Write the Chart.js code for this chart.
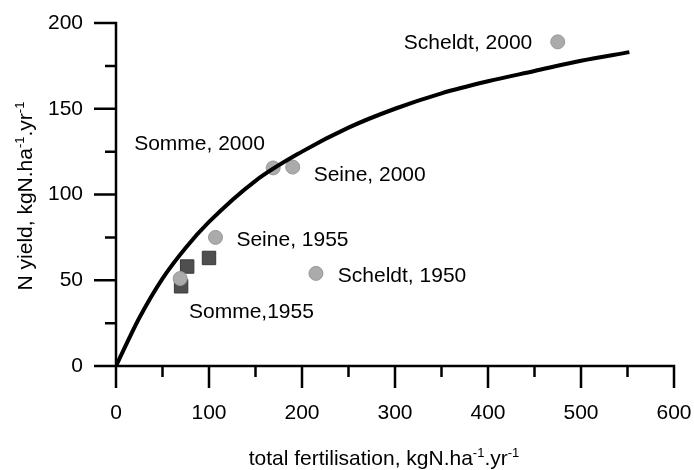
<!DOCTYPE html>
<html>
<head>
<meta charset="utf-8">
<script src="https://cdn.jsdelivr.net/npm/chart.js@4.4.1/dist/chart.umd.min.js"></script>
<style>
  html, body { margin: 0; padding: 0; background: #ffffff; }
  #wrap { width: 694px; height: 470px; }
</style>
</head>
<body>
<div id="wrap"><canvas id="c" width="694" height="470"></canvas></div>
<script>
// ---- data ----
const curveX = [0, 25, 50, 75, 100, 150, 200, 250, 300, 350, 400, 450, 500, 552];
const curveY = [0, 28, 51, 69, 84, 108, 125, 139, 150, 159, 166, 172, 178, 183];

const circleNames = ['Scheldt, 2000', 'Somme, 2000', 'Seine, 2000', 'Seine, 1955', 'Scheldt, 1950', 'Somme,1955'];
const circleX = [475, 169, 190, 107, 215, 69];
const circleY = [189, 115.5, 116, 75, 54, 51];

const squareX = [70, 76.5, 100];
const squareY = [46.5, 58, 63];

const xTicks = [0, 100, 200, 300, 400, 500, 600];
const yTicks = [0, 50, 100, 150, 200];

// label anchors in data coordinates (left edge, vertical centre of text)
const labelText = ['Scheldt, 2000', 'Somme, 2000', 'Seine, 2000', 'Seine, 1955', 'Scheldt, 1950', 'Somme,1955'];
const labelX = [309.5, 19.5, 212.5, 129.5, 238.5, 78.5];
const labelY = [188, 129.5, 111.5, 73.5, 52.5, 31.5];

const FONT = '"Liberation Sans", Arial, sans-serif';
const FS = 21;
const TXT = '#000';

const axesPlugin = {
  id: 'axesPlugin',
  afterDatasetsDraw(chart) {
    const ctx = chart.ctx;
    const xs = chart.scales.x, ys = chart.scales.y;
    const x0 = xs.getPixelForValue(0), y0 = ys.getPixelForValue(0);
    const MAJ = 22, MIN = 11;
    ctx.save();
    ctx.strokeStyle = '#000';
    ctx.lineWidth = 2.5;
    ctx.lineCap = 'butt';
    ctx.beginPath();
    // x axis
    ctx.moveTo(x0 - MAJ, y0); ctx.lineTo(xs.getPixelForValue(600) + 1.25, y0);
    // y axis
    ctx.moveTo(x0, ys.getPixelForValue(200) - 1.25); ctx.lineTo(x0, y0 + MAJ);
    for (let v = 50; v <= 600; v += 50) {
      const px = xs.getPixelForValue(v);
      const len = (v % 100 === 0) ? MAJ : MIN;
      ctx.moveTo(px, y0); ctx.lineTo(px, y0 + len);
    }
    for (let v = 25; v <= 200; v += 25) {
      const py = ys.getPixelForValue(v);
      const len = (v % 50 === 0) ? MAJ : MIN;
      ctx.moveTo(x0, py); ctx.lineTo(x0 - len, py);
    }
    ctx.stroke();

    // point labels
    ctx.fillStyle = TXT;
    ctx.font = FS + 'px ' + FONT;
    ctx.textAlign = 'left';
    ctx.textBaseline = 'middle';
    labelText.forEach((t, i) => {
      ctx.fillText(t, xs.getPixelForValue(labelX[i]), ys.getPixelForValue(labelY[i]));
    });

    // axis titles with superscripts
    function drawRich(parts, cx, cy) {
      let total = 0;
      parts.forEach(p => {
        ctx.font = (p.sup ? '13px ' : FS + 'px ') + FONT;
        total += ctx.measureText(p.t).width;
      });
      let x = cx - total / 2;
      ctx.textAlign = 'left';
      ctx.textBaseline = 'alphabetic';
      parts.forEach(p => {
        ctx.font = (p.sup ? '13px ' : FS + 'px ') + FONT;
        ctx.fillText(p.t, x, cy + (p.sup ? -8 : 0));
        x += ctx.measureText(p.t).width;
      });
    }
    const titleParts = [
      {t: 'total fertilisation, kgN.ha'}, {t: '-1', sup: true},
      {t: '.yr'}, {t: '-1', sup: true}
    ];
    const yParts = [
      {t: 'N yield, kgN.ha'}, {t: '-1', sup: true},
      {t: '.yr'}, {t: '-1', sup: true}
    ];
    ctx.fillStyle = TXT;
    drawRich(titleParts, 384, 465);
    ctx.save();
    ctx.translate(32, 196);
    ctx.rotate(-Math.PI / 2);
    drawRich(yParts, 0, 0);
    ctx.restore();
    ctx.restore();
  }
};

new Chart(document.getElementById('c'), {
  type: 'scatter',
  data: {
    datasets: [
      {
        type: 'line',
        label: 'fit',
        data: curveX.map((x, i) => ({x, y: curveY[i]})),
        borderColor: '#000',
        borderWidth: 4,
        pointRadius: 0,
        cubicInterpolationMode: 'monotone',
        fill: false,
        order: 0
      },
      {
        label: 'circles',
        data: circleX.map((x, i) => ({x, y: circleY[i], name: circleNames[i]})),
        backgroundColor: '#ababab',
        borderColor: '#979797',
        borderWidth: 1,
        pointRadius: 7,
        pointStyle: 'circle',
        order: 1
      },
      {
        label: 'squares',
        data: squareX.map((x, i) => ({x, y: squareY[i]})),
        backgroundColor: '#4f4f4f',
        borderColor: '#383838',
        borderWidth: 1,
        pointRadius: 9.5,
        pointStyle: 'rect',
        order: 2
      }
    ]
  },
  options: {
    responsive: false,
    animation: false,
    devicePixelRatio: 1,
    layout: { padding: { top: 23, right: 20, left: 0, bottom: 0 } },
    plugins: { legend: { display: false }, tooltip: { enabled: false } },
    scales: {
      x: {
        type: 'linear', min: 0, max: 600,
        afterBuildTicks: s => { s.ticks = xTicks.map(v => ({value: v})); },
        afterFit: s => { s.height = 104; s.paddingLeft = 0; s.paddingRight = 0; },
        grid: { display: false, drawTicks: false },
        border: { display: false },
        ticks: { padding: 35, color: TXT, font: { family: FONT, size: FS }, maxRotation: 0, autoSkip: false }
      },
      y: {
        type: 'linear', min: 0, max: 200,
        afterBuildTicks: s => { s.ticks = yTicks.map(v => ({value: v})); },
        afterFit: s => { s.width = 116; s.paddingTop = 0; s.paddingBottom = 0; },
        grid: { display: false, drawTicks: false },
        border: { display: false },
        ticks: { padding: 33, color: TXT, font: { family: FONT, size: FS }, autoSkip: false }
      }
    }
  },
  plugins: [axesPlugin]
});
</script>
</body>
</html>
